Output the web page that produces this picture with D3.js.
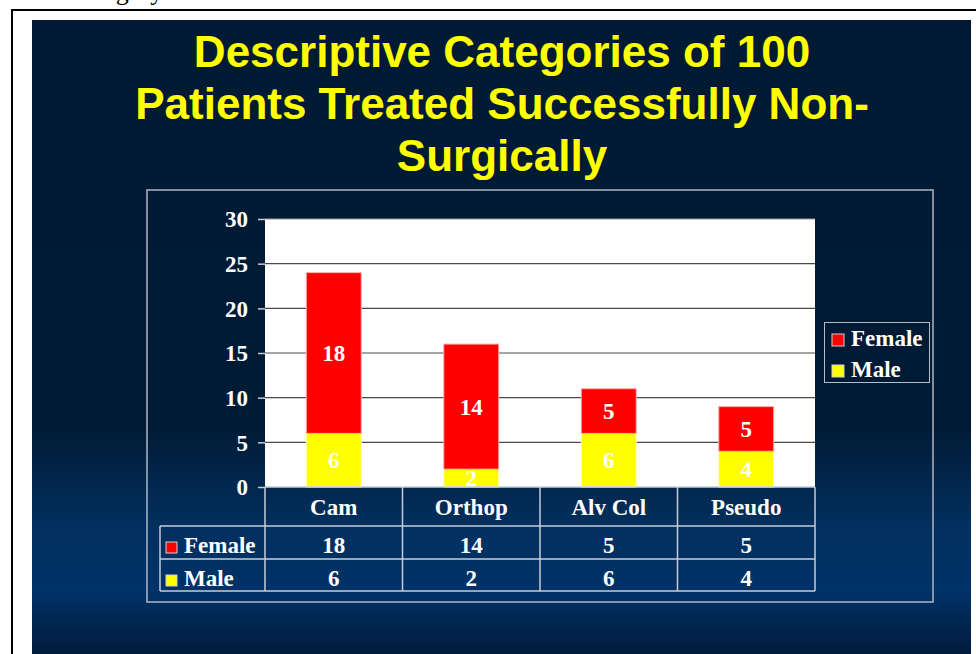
<!DOCTYPE html>
<html>
<head>
<meta charset="utf-8">
<script src="https://cdn.jsdelivr.net/npm/d3@7"></script>
<style>
  html, body { margin: 0; padding: 0; background: #ffffff; }
  svg { display: block; }
</style>
</head>
<body>
<svg id="chart" width="976" height="654"></svg>
<script>
// ---- data ----
const categories = ["Cam", "Orthop", "Alv Col", "Pseudo"];
const femaleValues = [18, 14, 5, 5];
const maleValues = [6, 2, 6, 4];
const seriesNames = ["Female", "Male"];
const seriesColors = ["#ff0000", "#ffff00"];
const yTicks = [0, 5, 10, 15, 20, 25, 30];
const titleLines = ["Descriptive Categories of 100", "Patients Treated Successfully Non-", "Surgically"];

const svg = d3.select("#chart");
const serif = "'Liberation Serif', 'Times New Roman', serif";
const sans = "'Liberation Sans', Arial, sans-serif";

// page header remnant (clipped at top, as in the reference)
svg.append("text").attr("x", 68).attr("y", 0)
  .attr("font-family", serif).attr("font-size", 26).attr("fill", "#000")
  .text("Category");

// outer black frame
svg.append("rect").attr("x", 12).attr("y", 10).attr("width", 980).attr("height", 660)
  .attr("fill", "none").attr("stroke", "#000").attr("stroke-width", 2);

// slide background gradient
const defs = svg.append("defs");
const grad = defs.append("linearGradient").attr("id", "bg").attr("x1", 0).attr("y1", 0).attr("x2", 0).attr("y2", 1);
[[0, "#011a34"], [0.64, "#011a35"], [0.8, "#02305f"], [0.9, "#003268"], [1, "#011b3c"]]
  .forEach(([o, c]) => grad.append("stop").attr("offset", o).attr("stop-color", c));
svg.append("rect").attr("x", 32).attr("y", 20).attr("width", 939).attr("height", 634).attr("fill", "url(#bg)");

// title
svg.append("g").selectAll("text").data(titleLines).join("text")
  .attr("x", 502).attr("y", (d, i) => 67 + i * 52)
  .attr("text-anchor", "middle")
  .attr("font-family", sans).attr("font-weight", "bold").attr("font-size", 44)
  .attr("fill", "#ffff00")
  .text(d => d);

// chart box
svg.append("rect").attr("x", 147).attr("y", 190).attr("width", 786).attr("height", 412)
  .attr("fill", "none").attr("stroke", "#aeb6c4").attr("stroke-width", 1.5);

// scales
const plotLeft = 265, plotRight = 815, plotTop = 219, plotBottom = 487;
const x = d3.scaleBand().domain(categories).range([plotLeft, plotRight]).paddingInner(0).paddingOuter(0);
const y = d3.scaleLinear().domain([0, 30]).range([plotBottom, plotTop]);
const barW = x.bandwidth() * 0.4;

// plot area
svg.append("rect").attr("x", plotLeft).attr("y", plotTop)
  .attr("width", plotRight - plotLeft).attr("height", plotBottom - plotTop).attr("fill", "#ffffff");

// gridlines
svg.append("g").selectAll("line").data(yTicks.filter(t => t > 0)).join("line")
  .attr("x1", plotLeft).attr("x2", plotRight)
  .attr("y1", d => y(d)).attr("y2", d => y(d))
  .attr("stroke", d => d === 30 ? "#9a9a9a" : "#4a4a4a").attr("stroke-width", 1.2);

// y axis
const yAxis = d3.axisLeft(y).tickValues(yTicks).tickSize(7).tickPadding(10);
const yg = svg.append("g").attr("transform", `translate(${plotLeft},0)`).call(yAxis);
yg.select(".domain").remove();
yg.selectAll(".tick line").attr("stroke", "#c8ccd4").attr("stroke-width", 1.5);
yg.selectAll(".tick text").attr("fill", "#ffffff").attr("font-family", serif)
  .attr("font-weight", "bold").attr("font-size", 23).attr("dy", "0.34em");

// stacked bars
const stackData = categories.map((c, i) => ({ cat: c, Male: maleValues[i], Female: femaleValues[i] }));
const stack = d3.stack().keys(["Male", "Female"])(stackData);
const colorOf = { Female: seriesColors[0], Male: seriesColors[1] };
stack.forEach(layer => {
  const g = svg.append("g");
  g.selectAll("rect").data(layer).join("rect")
    .attr("x", d => x(d.data.cat) + (x.bandwidth() - barW) / 2)
    .attr("y", d => y(d[1]))
    .attr("width", barW)
    .attr("height", d => y(d[0]) - y(d[1]))
    .attr("fill", colorOf[layer.key])
    .attr("stroke", layer.key === "Female" ? "#ffb3b3" : "#ffffcc").attr("stroke-width", 1);
  g.selectAll("text").data(layer).join("text")
    .attr("x", d => x(d.data.cat) + x.bandwidth() / 2)
    .attr("y", d => y((d[0] + d[1]) / 2))
    .attr("dy", "0.35em")
    .attr("text-anchor", "middle")
    .attr("font-family", serif).attr("font-weight", "bold").attr("font-size", 23)
    .attr("fill", "#ffffff")
    .text(d => d.data[layer.key]);
});

// data table
const tableColor = "#c9cdd6";
const rowTops = [487, 526, 559, 591];
const tbl = svg.append("g").attr("stroke", tableColor).attr("stroke-width", 1.5).attr("fill", "none");
tbl.append("line").attr("x1", plotLeft).attr("x2", plotRight).attr("y1", rowTops[0]).attr("y2", rowTops[0]);
rowTops.slice(1).forEach(ry => tbl.append("line").attr("x1", 160).attr("x2", plotRight).attr("y1", ry).attr("y2", ry));
const colEdges = categories.map(c => x(c)).concat([plotRight]);
colEdges.forEach(cx => tbl.append("line").attr("x1", cx).attr("x2", cx).attr("y1", rowTops[0]).attr("y2", rowTops[3]));
tbl.append("line").attr("x1", 160).attr("x2", 160).attr("y1", rowTops[1]).attr("y2", rowTops[3]);

const txt = (sel) => sel.attr("font-family", serif).attr("font-weight", "bold").attr("font-size", 23).attr("fill", "#ffffff");
svg.append("g").selectAll("text").data(categories).join("text")
  .attr("x", d => x(d) + x.bandwidth() / 2).attr("y", 515).attr("text-anchor", "middle")
  .call(txt).text(d => d);
[femaleValues, maleValues].forEach((vals, r) => {
  const by = [553, 586][r];
  svg.append("g").selectAll("text").data(vals).join("text")
    .attr("x", (d, i) => x(categories[i]) + x.bandwidth() / 2).attr("y", by).attr("text-anchor", "middle")
    .call(txt).text(d => d);
  svg.append("rect").attr("x", 166).attr("y", by - 11).attr("width", 11).attr("height", 11)
    .attr("fill", seriesColors[r]).attr("stroke", "#d0d0d0").attr("stroke-width", 1);
  svg.append("text").attr("x", 184).attr("y", by).call(txt).text(seriesNames[r]);
});

// legend
svg.append("rect").attr("x", 824.5).attr("y", 322.5).attr("width", 105).attr("height", 60)
  .attr("fill", "none").attr("stroke", "#b8bcc6").attr("stroke-width", 1);
seriesNames.forEach((s, i) => {
  const by = 346 + i * 31;
  svg.append("rect").attr("x", 832).attr("y", by - 12).attr("width", 12).attr("height", 12)
    .attr("fill", seriesColors[i]).attr("stroke", "#d0d0d0").attr("stroke-width", 1);
  svg.append("text").attr("x", 851).attr("y", by).call(txt).text(s);
});
</script>
</body>
</html>
